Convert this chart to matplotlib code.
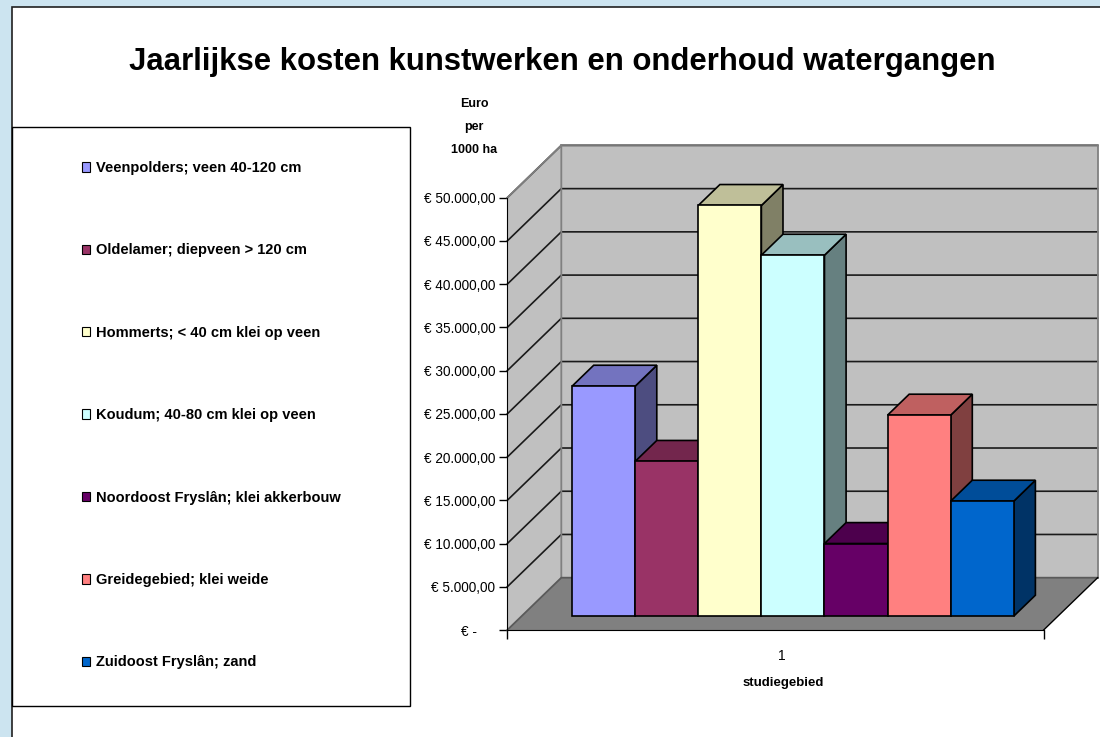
import matplotlib
matplotlib.use("Agg")
import matplotlib.pyplot as plt
from matplotlib.patches import Polygon, Rectangle
from matplotlib.ticker import FuncFormatter, FixedLocator
import matplotlib.colors as mcolors
import numpy as np

plt.rcParams['font.family'] = ['Liberation Sans', 'DejaVu Sans']

# ---------------- data ----------------
title = "Jaarlijkse kosten kunstwerken en onderhoud watergangen"
series_names = [
    "Veenpolders; veen 40-120 cm",
    "Oldelamer; diepveen > 120 cm",
    "Hommerts; < 40 cm klei op veen",
    "Koudum; 40-80 cm klei op veen",
    "Noordoost Fryslân; klei akkerbouw",
    "Greidegebied; klei weide",
    "Zuidoost Fryslân; zand",
]
values = [26600, 17900, 47500, 41750, 8400, 23250, 13300]
colors = ['#9999FF', '#993366', '#FFFFCC', '#CCFFFF', '#660066', '#FF8080', '#0066CC']
category_labels = ["1"]
y_ticks = list(range(0, 50001, 5000))
y_axis_title = "Euro\nper\n1000 ha"
x_axis_title = "studiegebied"

# ---------------- layout ----------------
W_PX, H_PX = 1100, 737
fig = plt.figure(figsize=(W_PX / 100, H_PX / 100), dpi=100)
fig.patch.set_facecolor('#CCE4F0')

def fx(px):
    return px / W_PX

def fy(py):
    return 1 - py / H_PX

# white chart panel
fig.patches.append(Rectangle((fx(12), -0.05), 1.2, fy(7) + 0.05, transform=fig.transFigure,
                             facecolor='white', edgecolor='#202020', lw=1.2, zorder=-3))
# legend box
fig.patches.append(Rectangle((fx(12), fy(706)), fx(410) - fx(12), fy(127) - fy(706),
                             transform=fig.transFigure, facecolor='white',
                             edgecolor='black', lw=1.0, zorder=-2))

# plot geometry (pixel scale of the oblique projection)
PX_X0, PX_Y0 = 507.3, 630.0       # pixel of data origin (front-left floor corner)
PX_PER_UNIT = 63.1                 # pixels per bar width
PX_PER_EURO = 8.646 / 1000.0
AX_L, AX_R, AX_T, AX_B = 440, 1100, 115, 665

ax = fig.add_axes([fx(AX_L), fy(AX_B), fx(AX_R) - fx(AX_L), fy(AX_T) - fy(AX_B)])
ax.set_xlim((AX_L - PX_X0) / PX_PER_UNIT, (AX_R - PX_X0) / PX_PER_UNIT)
ax.set_ylim((PX_Y0 - AX_B) / PX_PER_EURO, (PX_Y0 - AX_T) / PX_PER_EURO)
ax.patch.set_visible(False)

n = len(values)
YMAX = y_ticks[-1]
GAP = 0.80                       # floor margin, in bar widths
FLOOR_W = 8.50                   # floor width in bar widths
DX = 54.0 / PX_PER_UNIT          # depth offset (x units)
DY = 52.3 / PX_PER_EURO          # depth offset (euro units)
D0, DB = 0.265, 0.40             # bar depth start and bar depth (fractions)

wall_c = '#C0C0C0'
floor_c = '#808080'
edge_c = '#808080'

# left wall, back wall, floor
ax.add_patch(Polygon([(0, 0), (DX, DY), (DX, DY + YMAX), (0, YMAX)], closed=True,
                     facecolor=wall_c, edgecolor='none', zorder=1))
ax.add_patch(Polygon([(DX, DY), (FLOOR_W + DX, DY), (FLOOR_W + DX, DY + YMAX), (DX, DY + YMAX)],
                     closed=True, facecolor=wall_c, edgecolor='none', zorder=1))
ax.add_patch(Polygon([(0, 0), (FLOOR_W, 0), (FLOOR_W + DX, DY), (DX, DY)], closed=True,
                     facecolor=floor_c, edgecolor='none', zorder=1))

# gridlines
for v in y_ticks[1:]:
    ax.plot([0, DX, FLOOR_W + DX], [v, DY + v, DY + v], color='#1a1a1a', lw=1.2, zorder=2)

# wall outlines
ax.plot([0, DX, DX], [YMAX, DY + YMAX, DY], color=edge_c, lw=1.3, zorder=2)
ax.plot([DX, FLOOR_W + DX, FLOOR_W + DX], [DY + YMAX, DY + YMAX, DY], color=edge_c, lw=1.3, zorder=2)
ax.plot([0, DX, FLOOR_W + DX], [0, DY, DY], color='#5a5a5a', lw=1.3, zorder=2)
ax.plot([FLOOR_W, FLOOR_W + DX], [0, DY], color='black', lw=1.0, zorder=2)

def shade(c, f):
    r, g, b = mcolors.to_rgb(c)
    return (r * f, g * f, b * f)

ox, oy = D0 * DX, D0 * DY
bx, by = DB * DX, DB * DY
for i, (v, c) in enumerate(zip(values, colors)):
    x0 = GAP + i + ox
    x1 = x0 + 1
    z = 3 + i
    front = Polygon([(x0, oy), (x1, oy), (x1, oy + v), (x0, oy + v)], closed=True,
                    facecolor=c, edgecolor='black', lw=1.2, zorder=z, joinstyle='miter')
    top = Polygon([(x0, oy + v), (x1, oy + v), (x1 + bx, oy + v + by), (x0 + bx, oy + v + by)],
                  closed=True, facecolor=shade(c, 0.75), edgecolor='black', lw=1.2, zorder=z)
    side = Polygon([(x1, oy), (x1 + bx, oy + by), (x1 + bx, oy + v + by), (x1, oy + v)],
                   closed=True, facecolor=shade(c, 0.5), edgecolor='black', lw=1.2, zorder=z)
    ax.add_patch(side)
    ax.add_patch(top)
    ax.add_patch(front)

# axes spines
for s in ['top', 'right']:
    ax.spines[s].set_visible(False)
ax.spines['left'].set_position(('data', 0))
ax.spines['left'].set_bounds(0, YMAX)
ax.spines['bottom'].set_position(('data', 0))
ax.spines['bottom'].set_bounds(0, FLOOR_W)
ax.spines['left'].set_zorder(20)
ax.spines['bottom'].set_zorder(20)

def euro_fmt(v, pos):
    if v == 0:
        return "€ -     "
    s = f"{v:,.2f}"
    s = s.replace(",", "X").replace(".", ",").replace("X", ".")
    return "€ " + s

ax.yaxis.set_major_locator(FixedLocator(y_ticks))
ax.yaxis.set_major_formatter(FuncFormatter(euro_fmt))
ax.tick_params(axis='y', direction='out', length=5.8, width=1, pad=2.8, labelsize=9.8)

ax.set_xticks([0, FLOOR_W])
ax.set_xticklabels(['', ''])
ax.set_xticks([FLOOR_W / 2 + 0.1], minor=True)
ax.set_xticklabels(category_labels, minor=True)
ax.tick_params(axis='x', which='major', direction='out', length=6.5, width=1)
ax.tick_params(axis='x', which='minor', length=0, pad=14, labelsize=10)

# titles
fig.text(fx(562), fy(62), title, ha='center', va='center', fontsize=22.4, fontweight='bold')
fig.text(fx(474), fy(127), y_axis_title, ha='center', va='center', fontsize=9,
         fontweight='bold', linespacing=2.25)
fig.text(fx(783), fy(683), x_axis_title, ha='center', va='center', fontsize=9.5,
         fontweight='bold')

# legend
handles = [Rectangle((0, 0), 1, 1, facecolor=c, edgecolor='black', lw=0.8) for c in colors]
leg = fig.legend(handles, series_names, loc='upper left',
                 bbox_to_anchor=(fx(82), fy(161)), bbox_transform=fig.transFigure,
                 frameon=False, prop={'weight': 'bold', 'size': 10.5},
                 handlelength=0.58, handleheight=0.62, handletextpad=0.35,
                 labelspacing=4.69, borderpad=0, borderaxespad=0)
leg.set_zorder(5)

fig.savefig("out.png", dpi=100, facecolor=fig.get_facecolor())
